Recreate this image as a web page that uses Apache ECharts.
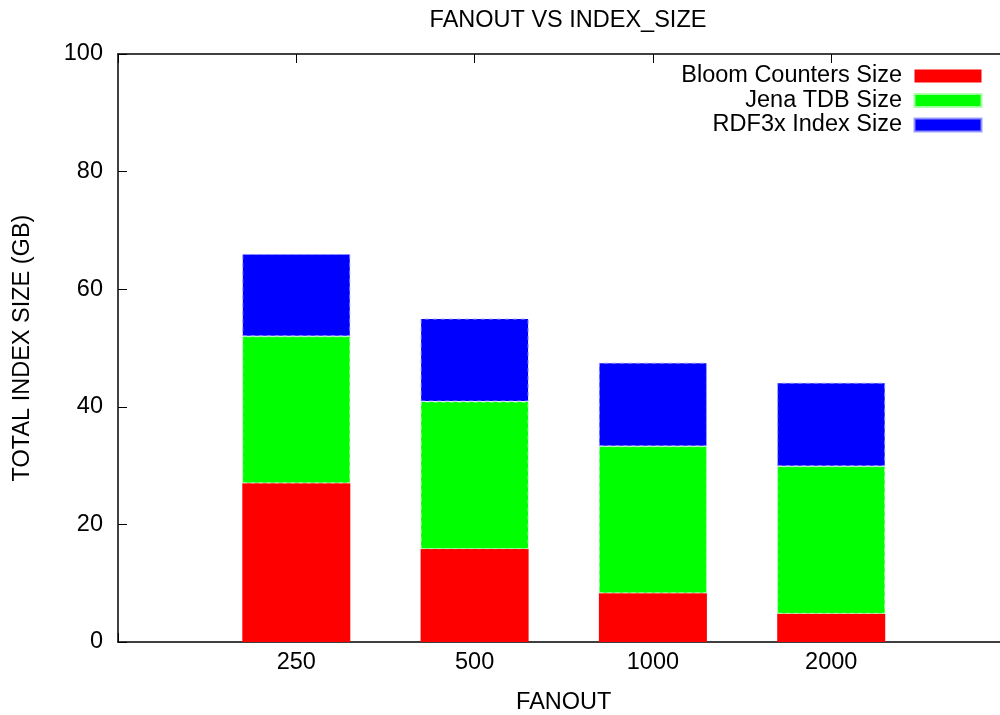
<!DOCTYPE html>
<html>
<head>
<meta charset="utf-8">
<script src="https://cdn.jsdelivr.net/npm/echarts@6/dist/echarts.min.js"></script>
<style>
  html, body { margin: 0; padding: 0; background: #ffffff; }
  #chart { width: 1000px; height: 715px; }
</style>
</head>
<body>
<div id="chart"></div>
<script>
// Fanout settings on the x axis
const fanouts = ['250', '500', '1000', '2000'];
// Stacked index sizes in GB
const bloomCounters = [27, 15.8, 8.3, 4.8];
const jenaTdb = [25, 25.1, 25, 25.1];
const rdf3xIndex = [14, 14.1, 14.2, 14.2];
// Y axis range
const yMin = 0, yMax = 100, yStep = 20;

const FONT = "'Liberation Sans', Arial, Helvetica, sans-serif";
const FS = 23.5;
const chart = echarts.init(document.getElementById('chart'), null, { renderer: 'canvas' });

// one empty slot on each side of the bars, as in a gnuplot histogram
const slots = [''].concat(fanouts, ['']);
const padded = vals => [null].concat(vals, [null]);
const tickCfg = { show: true, inside: true, length: 9, alignWithLabel: true, lineStyle: { color: '#000', width: 1 } };
const lineCfg = { show: true, onZero: false, lineStyle: { color: '#000', width: 1.5 } };

const option = {
  animation: false,
  backgroundColor: '#ffffff',
  textStyle: { fontFamily: FONT, color: '#000' },
  title: {
    text: 'FANOUT VS INDEX_SIZE',
    left: 563, top: 4, textAlign: 'center',
    textStyle: { fontFamily: FONT, fontSize: FS, fontWeight: 'normal', color: '#000' }
  },
  legend: {
    orient: 'vertical', right: 17.5, top: 64, padding: 0,
    align: 'right', itemWidth: 67, itemHeight: 13, itemGap: 0.5,
    icon: 'rect', selectedMode: false,
    textStyle: { fontFamily: FONT, fontSize: FS, lineHeight: 22, color: '#000', padding: [0, 7.5, 0, 0] },
    data: ['Bloom Counters Size', 'Jena TDB Size', 'RDF3x Index Size']
  },
  grid: { left: 118, top: 54, width: 891.5, height: 588, containLabel: false, outerBoundsMode: 'none' },
  xAxis: [
    {
      type: 'category', position: 'bottom', data: slots, boundaryGap: false,
      axisLine: lineCfg, axisTick: Object.assign({ interval: 0 }, tickCfg), splitLine: { show: false },
      axisLabel: { interval: 0, margin: 9, fontFamily: FONT, fontSize: FS, color: '#000' },
      name: 'FANOUT', nameLocation: 'middle', nameGap: 49,
      nameTextStyle: { fontFamily: FONT, fontSize: FS, color: '#000' }
    },
    {
      type: 'category', position: 'top', data: slots, boundaryGap: false,
      axisLine: lineCfg, axisTick: Object.assign({ interval: 0 }, tickCfg), splitLine: { show: false },
      axisLabel: { show: false }
    }
  ],
  yAxis: [
    {
      type: 'value', position: 'left', min: yMin, max: yMax, interval: yStep,
      axisLine: lineCfg, axisTick: tickCfg, splitLine: { show: false },
      axisLabel: { margin: 15, fontFamily: FONT, fontSize: FS, color: '#000' },
      name: 'TOTAL INDEX SIZE (GB)', nameLocation: 'middle', nameGap: 83,
      nameTextStyle: { fontFamily: FONT, fontSize: FS, color: '#000' }
    },
    {
      type: 'value', position: 'right', min: yMin, max: yMax, interval: yStep,
      axisLine: lineCfg, axisTick: tickCfg, splitLine: { show: false },
      axisLabel: { show: false }
    }
  ],
  series: [
    {
      name: 'Bloom Counters Size', type: 'bar', stack: 'total', barWidth: 108,
      xAxisIndex: 0, yAxisIndex: 0,
      itemStyle: { color: '#ff0000' },
      emphasis: { disabled: true },
      data: padded(bloomCounters)
    },
    {
      name: 'Jena TDB Size', type: 'bar', stack: 'total', barWidth: 108,
      xAxisIndex: 0, yAxisIndex: 0,
      itemStyle: { color: '#00ff00', borderColor: 'rgba(170,255,170,0.9)', borderWidth: 1, borderType: [4, 4] },
      emphasis: { disabled: true },
      data: padded(jenaTdb)
    },
    {
      name: 'RDF3x Index Size', type: 'bar', stack: 'total', barWidth: 108,
      xAxisIndex: 0, yAxisIndex: 0,
      itemStyle: { color: '#0000ff', borderColor: 'rgba(150,150,255,0.9)', borderWidth: 1, borderType: [4, 4] },
      emphasis: { disabled: true },
      data: padded(rdf3xIndex)
    }
  ]
};

chart.setOption(option);
</script>
</body>
</html>
